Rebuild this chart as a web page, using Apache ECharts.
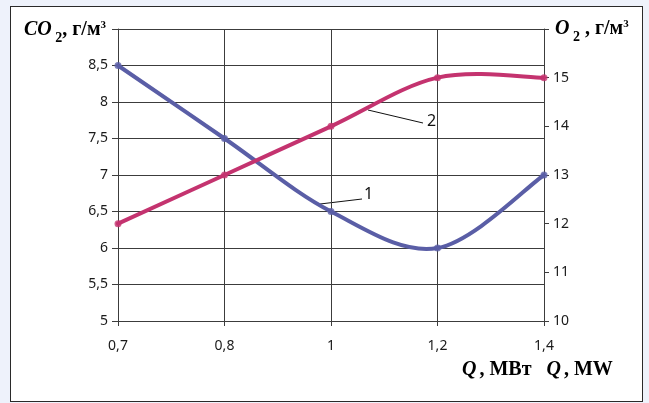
<!DOCTYPE html>
<html>
<head>
<meta charset="utf-8">
<script src="https://cdn.jsdelivr.net/npm/echarts@6/dist/echarts.min.js"></script>
<style>
  html, body { margin: 0; padding: 0; background: #eef2fb; }
  #frame { position: absolute; left: 10px; top: 6px; width: 631px; height: 394px; border: 1px solid #2a2a2a; background: #ffffff; }
  #chart { position: absolute; left: 0; top: 0; width: 649px; height: 403px; }
</style>
</head>
<body>
<div id="frame"></div>
<div id="chart"></div>
<script>
// Data
const categories = ['0,7', '0,8', '1', '1,2', '1,4'];
const co2Values = [8.5, 7.5, 6.5, 6.0, 7.0];     // curve 1, left axis (g/m3)
const o2Values = [12.0, 13.0, 14.0, 15.0, 15.0]; // curve 2, right axis (g/m3)
const leftTicks = { min: 5, max: 9, interval: 0.5 };
const rightTicks = { min: 10, max: 16, interval: 1 };

const blue = '#5a5ea6';
const magenta = '#c4336f';

const chart = echarts.init(document.getElementById('chart'), null, { renderer: 'canvas' });
const tickFont = { fontFamily: 'Noto Sans', fontSize: 14, color: '#1a1a1a' };
const gridColor = '#3c3c3c';
const fmt = v => String(v).replace('.', ',');

// Excel-like smoothed line: cubic Bezier segments through the data points,
// positioned through the chart's own axes (api.coord).
function smoothRenderer(values, color) {
  return function (params, api) {
    const i = params.dataIndex;
    const n = values.length;
    if (i >= n - 1) return null;
    const P = k => api.coord([Math.max(0, Math.min(n - 1, k)), values[Math.max(0, Math.min(n - 1, k))]]);
    const p0 = P(i - 1), p1 = P(i), p2 = P(i + 1), p3 = P(i + 2);
    const t = 1 / 6;
    return {
      type: 'bezierCurve',
      shape: {
        x1: p1[0], y1: p1[1], x2: p2[0], y2: p2[1],
        cpx1: p1[0] + (p2[0] - p0[0]) * t, cpy1: p1[1] + (p2[1] - p0[1]) * t,
        cpx2: p2[0] - (p3[0] - p1[0]) * t, cpy2: p2[1] - (p3[1] - p1[1]) * t
      },
      style: { stroke: color, lineWidth: 4, fill: null, lineCap: 'round' },
      silent: true
    };
  };
}

const serif = 'Liberation Serif';
function nameRich(size, itPad) {
  return {
    it: { fontFamily: serif, fontStyle: 'italic', fontWeight: 'bold', fontSize: size, color: '#111', padding: [0, itPad || 0, 0, 0] },
    sub: { fontFamily: serif, fontWeight: 'bold', fontSize: Math.round(size * 0.68), color: '#111', verticalAlign: 'bottom', padding: [0, 0, -5, 0] },
    n: { fontFamily: serif, fontWeight: 'bold', fontSize: size, color: '#111' },
    sup: { fontFamily: serif, fontWeight: 'bold', fontSize: Math.round(size * 0.55), color: '#111', verticalAlign: 'top', padding: [0, 0, 9, 0] }
  };
}

chart.setOption({
  animation: false,
  grid: { left: 118, right: 105, top: 29, bottom: 82, containLabel: false },
  xAxis: {
    type: 'category',
    data: categories,
    boundaryGap: false,
    axisLine: { show: true, lineStyle: { color: gridColor, width: 1 } },
    axisTick: { show: true, length: 5, lineStyle: { color: gridColor } },
    axisLabel: Object.assign({ margin: 18 }, tickFont),
    splitLine: { show: true, lineStyle: { color: gridColor, width: 1 } }
  },
  yAxis: [
    {
      type: 'value',
      min: leftTicks.min, max: leftTicks.max, interval: leftTicks.interval,
      axisLine: { show: true, lineStyle: { color: gridColor } },
      axisTick: { show: true, length: 6, lineStyle: { color: gridColor } },
      axisLabel: Object.assign({ margin: 10, formatter: v => v >= leftTicks.max ? '' : fmt(v) }, tickFont),
      splitLine: { show: true, lineStyle: { color: gridColor, width: 1 } }
    },
    {
      type: 'value',
      min: rightTicks.min, max: rightTicks.max, interval: rightTicks.interval,
      position: 'right',
      axisLine: { show: true, lineStyle: { color: gridColor } },
      axisTick: { show: true, length: 5, lineStyle: { color: gridColor } },
      axisLabel: Object.assign({ margin: 9, formatter: v => v >= rightTicks.max ? '' : fmt(v) }, tickFont),
      splitLine: { show: false }
    }
  ],
  series: [
    {
      name: '1', type: 'custom', yAxisIndex: 0, z: 3,
      data: co2Values.map((v, k) => [k, v]),
      encode: { x: 0, y: 1 },
      renderItem: smoothRenderer(co2Values, blue)
    },
    {
      name: '1 points', type: 'scatter', yAxisIndex: 0, z: 4,
      data: co2Values, symbol: 'circle', symbolSize: 7,
      itemStyle: { color: blue }
    },
    {
      name: '2', type: 'custom', yAxisIndex: 1, z: 5,
      data: o2Values.map((v, k) => [k, v]),
      encode: { x: 0, y: 1 },
      renderItem: smoothRenderer(o2Values, magenta)
    },
    {
      name: '2 points', type: 'scatter', yAxisIndex: 1, z: 6,
      data: o2Values, symbol: 'circle', symbolSize: 7,
      itemStyle: { color: magenta }
    }
  ],
  graphic: [
    { type: 'text', left: 24, top: 20, silent: true,
      style: { text: '{it|CO}{sub| 2}{n|, г/м}{sup|3}', rich: nameRich(20) } },
    { type: 'text', left: 555, top: 19, silent: true,
      style: { text: '{it|O}{sub| 2}{n| , г/м}{sup|3}', rich: nameRich(20) } },
    { type: 'text', left: 462, top: 360, silent: true,
      style: { text: '{it|Q}{n|, МВт   }{it|Q}{n|, MW}', rich: nameRich(20, 3) } },
    { type: 'line', silent: true, shape: { x1: 320, y1: 204, x2: 362, y2: 199 }, style: { stroke: '#111', lineWidth: 1 } },
    { type: 'text', left: 364, top: 186, silent: true, style: { text: '1', fontFamily: 'Noto Sans', fontSize: 16, fill: '#111' } },
    { type: 'line', silent: true, shape: { x1: 368, y1: 110, x2: 423, y2: 123 }, style: { stroke: '#111', lineWidth: 1 } },
    { type: 'text', left: 427, top: 113, silent: true, style: { text: '2', fontFamily: 'Noto Sans', fontSize: 16, fill: '#111' } }
  ]
});
</script>
</body>
</html>
